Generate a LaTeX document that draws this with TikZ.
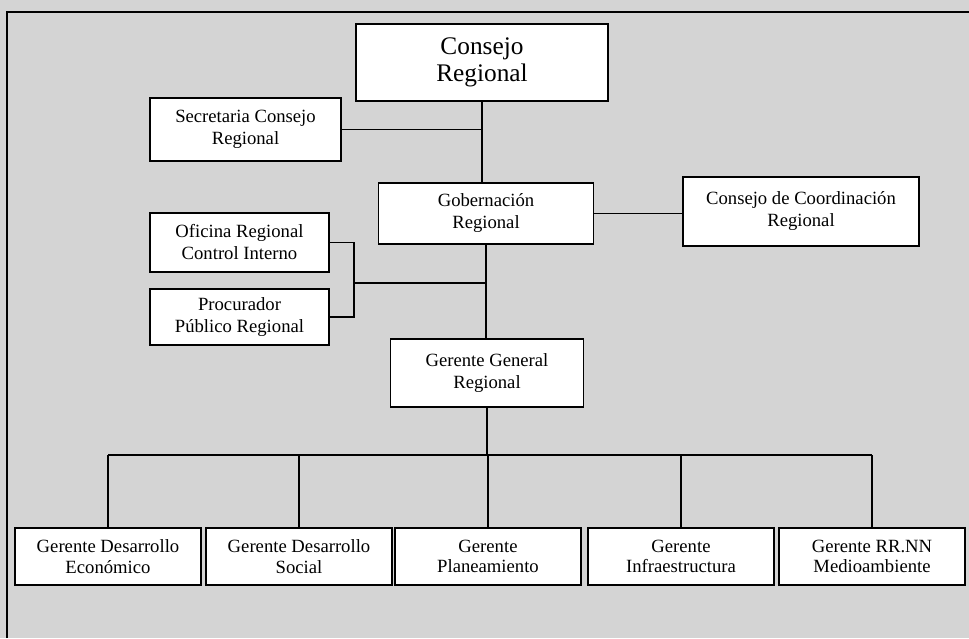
\documentclass[tikz,border=0pt]{standalone}
\usepackage{fontspec}
\setmainfont{Liberation Serif}
\usetikzlibrary{positioning}
\tikzset{
  caja/.style={draw, fill=white, line width=1.1pt, align=center, inner sep=0pt},
  linea/.style={line width=1.2pt}
}
\begin{document}
\begin{tikzpicture}[x=0.75pt, y=-0.75pt, font=\fontsize{14}{16.5}\selectfont, line join=miter]
\useasboundingbox (0,0) rectangle (969,638);
\fill[black!17] (0,0) rectangle (969,638);
\draw[linea] (7,638) -- (7,12) -- (969,12);
% cajas superiores
\node[caja, minimum width=189pt, minimum height=57.75pt, font=\fontsize{19}{20.5}\selectfont]
  (consejo) at (482,62.5) {Consejo\\Regional};
\node[caja, minimum width=143.25pt, minimum height=47.25pt] (secretaria) at (245.5,129.5) {Secretaria Consejo\\Regional};
\node[caja, minimum width=161.25pt, minimum height=45.75pt] (gobernacion) at (486,213.5) {Gobernación\\Regional};
\node[caja, minimum width=177pt, minimum height=51.75pt] (coordinacion) at (801,211.5) {Consejo de Coordinación\\Regional};
\node[caja, minimum width=134.25pt, minimum height=44.25pt] (oficina) at (239.5,242.5) {Oficina Regional\\Control Interno};
\node[caja, minimum width=134.25pt, minimum height=42pt] (procurador) at (239.5,317) {Procurador\\Público Regional};
\node[caja, minimum width=144.75pt, minimum height=51pt] (gerente) at (487,373) {Gerente General\\Regional};
% gerencias
\foreach \n/\x/\t in {g1/108/{Gerente Desarrollo\\Económico},
                      g2/299/{Gerente Desarrollo\\Social},
                      g3/488/{Gerente\\Planeamiento},
                      g4/681/{Gerente\\Infraestructura},
                      g5/872/{Gerente RR.NN\\Medioambiente}}
  \node[caja, minimum width=139.5pt, minimum height=42.75pt, font=\fontsize{14}{15.5}\selectfont] (\n) at (\x,556.5) {\t};
\path
  (354,283) coordinate (codo)
  (gerente.south |- 0,455) coordinate (bus)
  ;
% conectores
\draw[linea] (consejo.south) -- (consejo.south |- gobernacion.north);
\draw[linea] (secretaria.east) -- (secretaria.east -| consejo.south);
\draw[linea] (gobernacion.east) -- (gobernacion.east -| coordinacion.west);
\draw[linea] (gobernacion.south) -- (gobernacion.south |- gerente.north);
\draw[linea] (oficina.east) -| (codo) |- (procurador.east);
\draw[linea] (codo) -- (codo -| gobernacion.south);
\draw[linea] (gerente.south) -- (bus);
\draw[linea] (g1.north |- bus) -- (g5.north |- bus);
\foreach \n in {g1,g2,g3,g4,g5}
  \draw[linea] (\n.north) -- (\n.north |- bus);
\end{tikzpicture}
\end{document}
